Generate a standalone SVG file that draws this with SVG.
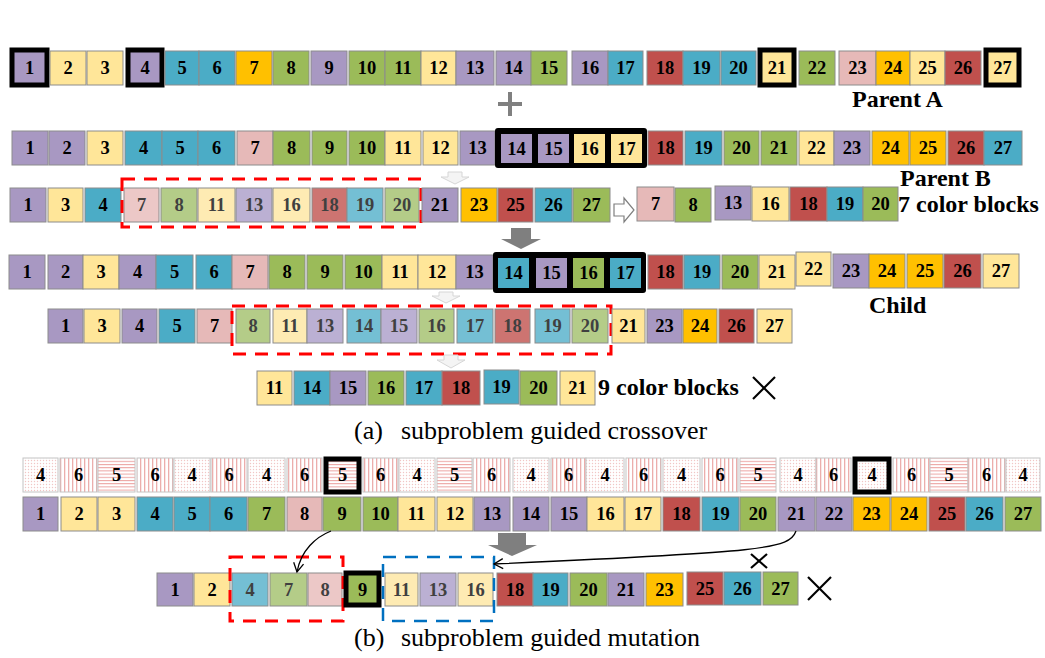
<svg xmlns="http://www.w3.org/2000/svg" width="1045" height="658" viewBox="0 0 1045 658">
<style>
.c{stroke:#8c8c8c;stroke-width:1}
.p{fill:#a898c2}.y{fill:#ffe699}.b{fill:#4bacc6}.o{fill:#ffc000}.g{fill:#9bbb59}.r{fill:#c0504d}.k{fill:#e6b9b8}
.fp{fill:#bbb0d3}.fy{fill:#feebb3}.fb{fill:#74bfd4}.fg{fill:#b4cc88}.fr{fill:#cd7471}.fk{fill:#ecc8c7}
.hb{stroke:#000;stroke-width:5}
.t{font-family:"Liberation Serif","Times New Roman",serif;font-weight:bold;font-size:18.5px;text-anchor:middle;fill:#000}
.ft{fill:#404040}
.lb{font-family:"Liberation Serif","Times New Roman",serif;font-weight:bold;font-size:24px;fill:#000}
.cap{font-family:"Liberation Serif","Times New Roman",serif;font-size:26px;fill:#000}
.rd{fill:none;stroke:#ff0000;stroke-width:3;stroke-dasharray:13 9}
.bd{fill:none;stroke:#0070c0;stroke-width:2.5;stroke-dasharray:13 9}
.fa{fill:#f4f4f4;stroke:#d6d6d6;stroke-width:1}
.da{fill:#7f7f7f}
.x{stroke:#000;stroke-width:2.2}
.pc{stroke:#c4c4c4;stroke-width:1}
.cv{fill:none;stroke:#000;stroke-width:1.3;marker-end:url(#oa)}
</style>
<defs>
<pattern id="dots" width="3" height="3" patternUnits="userSpaceOnUse"><rect width="3" height="3" fill="#fff"/><circle cx="1.5" cy="1.5" r="0.7" fill="#f1c6c5"/></pattern>
<pattern id="vst" width="4" height="4" patternUnits="userSpaceOnUse"><rect width="4" height="4" fill="#fff"/><rect width="1.3" height="4" fill="#ecaeac"/></pattern>
<pattern id="hst" width="4" height="3.2" patternUnits="userSpaceOnUse"><rect width="4" height="3.2" fill="#fff"/><rect width="4" height="1" fill="#eba2a0"/></pattern>
<marker id="oa" markerWidth="12" markerHeight="12" refX="10" refY="6" orient="auto" markerUnits="userSpaceOnUse"><path d="M1,1 L10,6 L1,11" fill="none" stroke="#000" stroke-width="1.3"/></marker>
</defs>
<rect width="1045" height="658" fill="#fff"/>

<!-- Parent A -->
<g id="parentA">
<g id="A1"><rect class="p hb" x="12" y="50" width="35" height="35"/><text class="t" x="29.5" y="74">1</text></g>
<g id="A2"><rect class="c y" x="50" y="51" width="36" height="34"/><text class="t" x="68" y="74">2</text></g>
<g id="A3"><rect class="c y" x="87" y="51" width="36" height="34"/><text class="t" x="105" y="74">3</text></g>
<g id="A4"><rect class="p hb" x="128" y="50" width="34" height="35"/><text class="t" x="145" y="74">4</text></g>
<g id="A5"><rect class="c b" x="165" y="51" width="34" height="34"/><text class="t" x="182" y="74">5</text></g>
<g id="A6"><rect class="c b" x="199" y="51" width="36" height="34"/><text class="t" x="217" y="74">6</text></g>
<g id="A7"><rect class="c o" x="236" y="51" width="36" height="34"/><text class="t" x="254" y="74">7</text></g>
<g id="A8"><rect class="c g" x="273" y="51" width="36" height="34"/><text class="t" x="291" y="74">8</text></g>
<g id="A9"><rect class="c p" x="311" y="51" width="36" height="34"/><text class="t" x="329" y="74">9</text></g>
<g id="A10"><rect class="c g" x="349" y="51" width="36" height="34"/><text class="t" x="367" y="74">10</text></g>
<g id="A11"><rect class="c g" x="385" y="51" width="36" height="34"/><text class="t" x="403" y="74">11</text></g>
<g id="A12"><rect class="c y" x="421" y="51" width="35" height="34"/><text class="t" x="438.5" y="74">12</text></g>
<g id="A13"><rect class="c p" x="456" y="51" width="38" height="34"/><text class="t" x="475" y="74">13</text></g>
<g id="A14"><rect class="c p" x="496" y="51" width="35" height="34"/><text class="t" x="513.5" y="74">14</text></g>
<g id="A15"><rect class="c g" x="531" y="51" width="36" height="34"/><text class="t" x="549" y="74">15</text></g>
<g id="A16"><rect class="c p" x="572" y="51" width="36" height="34"/><text class="t" x="590" y="74">16</text></g>
<g id="A17"><rect class="c b" x="608" y="51" width="35" height="34"/><text class="t" x="625.5" y="74">17</text></g>
<g id="A18"><rect class="c r" x="647" y="51" width="36" height="34"/><text class="t" x="665" y="74">18</text></g>
<g id="A19"><rect class="c b" x="683" y="51" width="37" height="34"/><text class="t" x="701.5" y="74">19</text></g>
<g id="A20"><rect class="c b" x="721" y="51" width="35" height="34"/><text class="t" x="738.5" y="74">20</text></g>
<g id="A21"><rect class="y hb" x="760" y="50" width="34" height="35"/><text class="t" x="777" y="74">21</text></g>
<g id="A22"><rect class="c g" x="799" y="51" width="36" height="34"/><text class="t" x="817" y="74">22</text></g>
<g id="A23"><rect class="c k" x="839" y="51" width="37" height="34"/><text class="t" x="857.5" y="74">23</text></g>
<g id="A24"><rect class="c o" x="876" y="51" width="34" height="34"/><text class="t" x="893" y="74">24</text></g>
<g id="A25"><rect class="c y" x="910" y="51" width="35" height="34"/><text class="t" x="927.5" y="74">25</text></g>
<g id="A26"><rect class="c r" x="945" y="51" width="36" height="34"/><text class="t" x="963" y="74">26</text></g>
<g id="A27"><rect class="y hb" x="986" y="50" width="33" height="35"/><text class="t" x="1002.5" y="74">27</text></g>
<text id="labelA" class="lb" x="852" y="107">Parent A</text>
</g>
<g id="plus"><line x1="498" y1="104" x2="522" y2="104" stroke="#808080" stroke-width="4"/><line x1="510" y1="92" x2="510" y2="116" stroke="#808080" stroke-width="4"/></g>

<!-- Parent B -->
<g id="parentB">
<g id="B1"><rect class="c p" x="12" y="131" width="36" height="34"/><text class="t" x="30" y="154">1</text></g>
<g id="B2"><rect class="c p" x="49" y="131" width="36" height="34"/><text class="t" x="67" y="154">2</text></g>
<g id="B3"><rect class="c y" x="87" y="131" width="36" height="34"/><text class="t" x="105" y="154">3</text></g>
<g id="B4"><rect class="c b" x="125" y="131" width="37" height="34"/><text class="t" x="143.5" y="154">4</text></g>
<g id="B5"><rect class="c b" x="162" y="131" width="36" height="34"/><text class="t" x="180" y="154">5</text></g>
<g id="B6"><rect class="c b" x="198" y="131" width="37" height="34"/><text class="t" x="216.5" y="154">6</text></g>
<g id="B7"><rect class="c k" x="237" y="131" width="36" height="34"/><text class="t" x="255" y="154">7</text></g>
<g id="B8"><rect class="c g" x="273" y="131" width="37" height="34"/><text class="t" x="291.5" y="154">8</text></g>
<g id="B9"><rect class="c g" x="312" y="131" width="35" height="34"/><text class="t" x="329.5" y="154">9</text></g>
<g id="B10"><rect class="c g" x="349" y="131" width="36" height="34"/><text class="t" x="367" y="154">10</text></g>
<g id="B11"><rect class="c y" x="385" y="131" width="36" height="34"/><text class="t" x="403" y="154">11</text></g>
<g id="B12"><rect class="c y" x="423" y="131" width="35" height="34"/><text class="t" x="440.5" y="154">12</text></g>
<g id="B13"><rect class="c p" x="460" y="131" width="35" height="34"/><text class="t" x="477.5" y="154">13</text></g>
<g id="Bsel"><rect x="495" y="128" width="152" height="40" rx="3" fill="#000"/>
<g id="B14"><rect class="p" x="501" y="134" width="31" height="29"/><text class="t" x="516.5" y="155">14</text></g>
<g id="B15"><rect class="p" x="538" y="134" width="31" height="29"/><text class="t" x="553.5" y="155">15</text></g>
<g id="B16"><rect class="y" x="574" y="134" width="31" height="29"/><text class="t" x="589.5" y="155">16</text></g>
<g id="B17"><rect class="y" x="611" y="134" width="31" height="29"/><text class="t" x="626.5" y="155">17</text></g>
</g>
<g id="B18"><rect class="c r" x="648" y="131" width="35" height="34"/><text class="t" x="665.5" y="154">18</text></g>
<g id="B19"><rect class="c b" x="685" y="131" width="37" height="34"/><text class="t" x="703.5" y="154">19</text></g>
<g id="B20"><rect class="c g" x="724" y="131" width="35" height="34"/><text class="t" x="741.5" y="154">20</text></g>
<g id="B21"><rect class="c g" x="761" y="131" width="36" height="34"/><text class="t" x="779" y="154">21</text></g>
<g id="B22"><rect class="c y" x="799" y="131" width="35" height="34"/><text class="t" x="816.5" y="154">22</text></g>
<g id="B23"><rect class="c p" x="834" y="131" width="36" height="34"/><text class="t" x="852" y="154">23</text></g>
<g id="B24"><rect class="c o" x="872" y="131" width="37" height="34"/><text class="t" x="890.5" y="154">24</text></g>
<g id="B25"><rect class="c o" x="910" y="131" width="36" height="34"/><text class="t" x="928" y="154">25</text></g>
<g id="B26"><rect class="c r" x="948" y="131" width="36" height="34"/><text class="t" x="966" y="154">26</text></g>
<g id="B27"><rect class="c b" x="984" y="131" width="38" height="34"/><text class="t" x="1003" y="154">27</text></g>
<text id="labelB" class="lb" x="900" y="186">Parent B</text>
</g>

<!-- Row 3: selected -->
<g id="rowSel">
<g id="C1"><rect class="c p" x="10" y="188" width="36" height="34"/><text class="t" x="28" y="211">1</text></g>
<g id="C3"><rect class="c y" x="48" y="188" width="35" height="34"/><text class="t" x="65.5" y="211">3</text></g>
<g id="C4"><rect class="c b" x="85" y="188" width="36" height="34"/><text class="t" x="103" y="211">4</text></g>
<g id="C7"><rect class="c fk" x="124" y="188" width="35" height="34"/><text class="t ft" x="141.5" y="211">7</text></g>
<g id="C8"><rect class="c fg" x="161" y="188" width="36" height="34"/><text class="t ft" x="179" y="211">8</text></g>
<g id="C11"><rect class="c fy" x="198" y="188" width="37" height="34"/><text class="t ft" x="216.5" y="211">11</text></g>
<g id="C13"><rect class="c fp" x="236" y="188" width="36" height="34"/><text class="t ft" x="254" y="211">13</text></g>
<g id="C16"><rect class="c fy" x="273" y="188" width="37" height="34"/><text class="t ft" x="291.5" y="211">16</text></g>
<g id="C18"><rect class="c fr" x="312" y="188" width="35" height="34"/><text class="t ft" x="329.5" y="211">18</text></g>
<g id="C19"><rect class="c fb" x="347" y="188" width="36" height="34"/><text class="t ft" x="365" y="211">19</text></g>
<g id="C20"><rect class="c fg" x="385" y="188" width="34" height="34"/><text class="t ft" x="402" y="211">20</text></g>
<rect id="selBox1" class="rd" x="122" y="179" width="299" height="48"/>
<g id="C21"><rect class="c p" x="422" y="188" width="36" height="34"/><text class="t" x="440" y="211">21</text></g>
<g id="C23"><rect class="c o" x="461" y="188" width="36" height="34"/><text class="t" x="479" y="211">23</text></g>
<g id="C25"><rect class="c r" x="498" y="188" width="35" height="34"/><text class="t" x="515.5" y="211">25</text></g>
<g id="C26"><rect class="c b" x="535" y="188" width="37" height="34"/><text class="t" x="553.5" y="211">26</text></g>
<g id="C27"><rect class="c g" x="573" y="188" width="37" height="34"/><text class="t" x="591.5" y="211">27</text></g>
</g>
<g id="rowBlocks7">
<g id="D7"><rect class="c k" x="637" y="187" width="37" height="34"/><text class="t" x="655.5" y="210">7</text></g>
<g id="D8"><rect class="c g" x="675" y="188" width="36" height="34"/><text class="t" x="693" y="211">8</text></g>
<g id="D13"><rect class="c p" x="715" y="186" width="36" height="34"/><text class="t" x="733" y="209">13</text></g>
<g id="D16"><rect class="c y" x="752" y="187" width="37" height="34"/><text class="t" x="770.5" y="210">16</text></g>
<g id="D18"><rect class="c r" x="790" y="187" width="37" height="34"/><text class="t" x="808.5" y="210">18</text></g>
<g id="D19"><rect class="c b" x="827" y="187" width="36" height="34"/><text class="t" x="845" y="210">19</text></g>
<g id="D20"><rect class="c g" x="863" y="187" width="35" height="34"/><text class="t" x="880.5" y="210">20</text></g>
<text id="label7" class="lb" x="898" y="212">7 color blocks</text>
</g>

<!-- Child -->
<g id="child">
<g id="E1"><rect class="c p" x="9" y="255" width="36" height="34"/><text class="t" x="27" y="278">1</text></g>
<g id="E2"><rect class="c p" x="48" y="255" width="35" height="34"/><text class="t" x="65.5" y="278">2</text></g>
<g id="E3"><rect class="c y" x="83" y="255" width="36" height="34"/><text class="t" x="101" y="278">3</text></g>
<g id="E4"><rect class="c p" x="119" y="255" width="37" height="34"/><text class="t" x="137.5" y="278">4</text></g>
<g id="E5"><rect class="c b" x="156" y="255" width="37" height="34"/><text class="t" x="174.5" y="278">5</text></g>
<g id="E6"><rect class="c b" x="196" y="255" width="36" height="34"/><text class="t" x="214" y="278">6</text></g>
<g id="E7"><rect class="c k" x="232" y="255" width="36" height="34"/><text class="t" x="250" y="278">7</text></g>
<g id="E8"><rect class="c g" x="269" y="255" width="36" height="34"/><text class="t" x="287" y="278">8</text></g>
<g id="E9"><rect class="c g" x="307" y="255" width="36" height="34"/><text class="t" x="325" y="278">9</text></g>
<g id="E10"><rect class="c g" x="345" y="255" width="37" height="34"/><text class="t" x="363.5" y="278">10</text></g>
<g id="E11"><rect class="c y" x="382" y="255" width="36" height="34"/><text class="t" x="400" y="278">11</text></g>
<g id="E12"><rect class="c y" x="418" y="255" width="38" height="34"/><text class="t" x="437" y="278">12</text></g>
<g id="E13"><rect class="c p" x="456" y="255" width="37" height="34"/><text class="t" x="474.5" y="278">13</text></g>
<g id="Esel"><rect x="493" y="252" width="153" height="41" rx="3" fill="#000"/>
<g id="E14"><rect class="b" x="498" y="258" width="31" height="30"/><text class="t" x="513.5" y="279">14</text></g>
<g id="E15"><rect class="p" x="536" y="258" width="31" height="30"/><text class="t" x="551.5" y="279">15</text></g>
<g id="E16"><rect class="g" x="573" y="258" width="31" height="30"/><text class="t" x="588.5" y="279">16</text></g>
<g id="E17"><rect class="b" x="610" y="258" width="31" height="30"/><text class="t" x="625.5" y="279">17</text></g>
</g>
<g id="E18"><rect class="c r" x="648" y="255" width="35" height="34"/><text class="t" x="665.5" y="278">18</text></g>
<g id="E19"><rect class="c b" x="684" y="255" width="36" height="34"/><text class="t" x="702" y="278">19</text></g>
<g id="E20"><rect class="c g" x="722" y="255" width="36" height="34"/><text class="t" x="740" y="278">20</text></g>
<g id="E21"><rect class="c y" x="759" y="255" width="36" height="34"/><text class="t" x="777" y="278">21</text></g>
<g id="E22"><rect class="c y" x="796" y="252" width="35" height="34"/><text class="t" x="813.5" y="275">22</text></g>
<g id="E23"><rect class="c p" x="833" y="254" width="36" height="34"/><text class="t" x="851" y="277">23</text></g>
<g id="E24"><rect class="c o" x="869" y="254" width="36" height="34"/><text class="t" x="887" y="277">24</text></g>
<g id="E25"><rect class="c o" x="907" y="254" width="36" height="34"/><text class="t" x="925" y="277">25</text></g>
<g id="E26"><rect class="c r" x="944" y="254" width="37" height="34"/><text class="t" x="962.5" y="277">26</text></g>
<g id="E27"><rect class="c y" x="983" y="254" width="36" height="34"/><text class="t" x="1001" y="277">27</text></g>
<text id="labelChild" class="lb" x="869" y="313">Child</text>
</g>

<!-- Row 5 -->
<g id="rowSel2">
<g id="F1"><rect class="c p" x="48" y="309" width="35" height="34"/><text class="t" x="65.5" y="332">1</text></g>
<g id="F3"><rect class="c y" x="84" y="309" width="36" height="34"/><text class="t" x="102" y="332">3</text></g>
<g id="F4"><rect class="c p" x="122" y="309" width="35" height="34"/><text class="t" x="139.5" y="332">4</text></g>
<g id="F5"><rect class="c b" x="159" y="309" width="36" height="34"/><text class="t" x="177" y="332">5</text></g>
<g id="F7"><rect class="c k" x="197" y="309" width="35" height="34"/><text class="t" x="214.5" y="332">7</text></g>
<g id="F8"><rect class="c fg" x="236" y="309" width="34" height="34"/><text class="t ft" x="253" y="332">8</text></g>
<g id="F11"><rect class="c fy" x="273" y="309" width="34" height="34"/><text class="t ft" x="290" y="332">11</text></g>
<g id="F13"><rect class="c fp" x="307" y="309" width="36" height="34"/><text class="t ft" x="325" y="332">13</text></g>
<g id="F14"><rect class="c fb" x="347" y="309" width="34" height="34"/><text class="t ft" x="364" y="332">14</text></g>
<g id="F15"><rect class="c fp" x="381" y="309" width="36" height="34"/><text class="t ft" x="399" y="332">15</text></g>
<g id="F16"><rect class="c fg" x="419" y="309" width="35" height="34"/><text class="t ft" x="436.5" y="332">16</text></g>
<g id="F17"><rect class="c fb" x="457" y="309" width="36" height="34"/><text class="t ft" x="475" y="332">17</text></g>
<g id="F18"><rect class="c fr" x="495" y="309" width="35" height="34"/><text class="t ft" x="512.5" y="332">18</text></g>
<g id="F19"><rect class="c fb" x="535" y="309" width="35" height="34"/><text class="t ft" x="552.5" y="332">19</text></g>
<g id="F20"><rect class="c fg" x="572" y="309" width="36" height="34"/><text class="t ft" x="590" y="332">20</text></g>
<rect id="selBox2" class="rd" x="232" y="306" width="379" height="48"/>
<g id="F21"><rect class="c y" x="612" y="309" width="33" height="34"/><text class="t" x="628.5" y="332">21</text></g>
<g id="F23"><rect class="c p" x="647" y="309" width="35" height="34"/><text class="t" x="664.5" y="332">23</text></g>
<g id="F24"><rect class="c o" x="683" y="309" width="34" height="34"/><text class="t" x="700" y="332">24</text></g>
<g id="F26"><rect class="c r" x="719" y="309" width="35" height="34"/><text class="t" x="736.5" y="332">26</text></g>
<g id="F27"><rect class="c y" x="757" y="309" width="35" height="34"/><text class="t" x="774.5" y="332">27</text></g>
</g>

<!-- Row 6 -->
<g id="rowBlocks9">
<g id="G11"><rect class="c y" x="257" y="371" width="35" height="34"/><text class="t" x="274.5" y="394">11</text></g>
<g id="G14"><rect class="c b" x="294" y="371" width="36" height="34"/><text class="t" x="312" y="394">14</text></g>
<g id="G15"><rect class="c p" x="330" y="371" width="36" height="34"/><text class="t" x="348" y="394">15</text></g>
<g id="G16"><rect class="c g" x="368" y="371" width="36" height="34"/><text class="t" x="386" y="394">16</text></g>
<g id="G17"><rect class="c b" x="406" y="371" width="36" height="34"/><text class="t" x="424" y="394">17</text></g>
<g id="G18"><rect class="c r" x="442" y="371" width="38" height="34"/><text class="t" x="461" y="394">18</text></g>
<g id="G19"><rect class="c b" x="484" y="370" width="35" height="34"/><text class="t" x="501.5" y="393">19</text></g>
<g id="G20"><rect class="c g" x="520" y="371" width="37" height="34"/><text class="t" x="538.5" y="394">20</text></g>
<g id="G21"><rect class="c y" x="560" y="371" width="35" height="34"/><text class="t" x="577.5" y="394">21</text></g>
<text id="label9" class="lb" x="598" y="395">9 color blocks</text>
<g id="X1"><line class="x" x1="753" y1="377" x2="775" y2="399"/><line class="x" x1="775" y1="377" x2="753" y2="399"/></g>
</g>
<g id="capA"><text class="cap" x="354" y="439">(a)</text><text class="cap" x="401" y="439">subproblem guided crossover</text></g>

<!-- (b) pattern row -->
<g id="patRow">
<g id="P1"><rect class="pc" fill="url(#dots)" x="23" y="458" width="35" height="34"/><text class="t" x="40.5" y="481">4</text></g>
<g id="P2"><rect class="pc" fill="url(#vst)" x="60" y="458" width="37" height="34"/><text class="t" x="78.5" y="481">6</text></g>
<g id="P3"><rect class="pc" fill="url(#hst)" x="98" y="458" width="37" height="34"/><text class="t" x="116.5" y="481">5</text></g>
<g id="P4"><rect class="pc" fill="url(#vst)" x="137" y="458" width="36" height="34"/><text class="t" x="155" y="481">6</text></g>
<g id="P5"><rect class="pc" fill="url(#dots)" x="174" y="458" width="36" height="34"/><text class="t" x="192" y="481">4</text></g>
<g id="P6"><rect class="pc" fill="url(#vst)" x="211" y="458" width="36" height="34"/><text class="t" x="229" y="481">6</text></g>
<g id="P7"><rect class="pc" fill="url(#dots)" x="248" y="458" width="37" height="34"/><text class="t" x="266.5" y="481">4</text></g>
<g id="P8"><rect class="pc" fill="url(#vst)" x="287" y="458" width="35" height="34"/><text class="t" x="304.5" y="481">6</text></g>
<g id="P9"><rect class="hb" fill="url(#hst)" x="326" y="459" width="33" height="33"/><text class="t" x="342.5" y="481">5</text></g>
<g id="P10"><rect class="pc" fill="url(#vst)" x="363" y="458" width="35" height="34"/><text class="t" x="380.5" y="481">6</text></g>
<g id="P11"><rect class="pc" fill="url(#dots)" x="399" y="458" width="36" height="34"/><text class="t" x="417" y="481">4</text></g>
<g id="P12"><rect class="pc" fill="url(#hst)" x="437" y="458" width="35" height="34"/><text class="t" x="454.5" y="481">5</text></g>
<g id="P13"><rect class="pc" fill="url(#vst)" x="473" y="458" width="37" height="34"/><text class="t" x="491.5" y="481">6</text></g>
<g id="P14"><rect class="pc" fill="url(#dots)" x="513" y="458" width="36" height="34"/><text class="t" x="531" y="481">4</text></g>
<g id="P15"><rect class="pc" fill="url(#vst)" x="551" y="458" width="35" height="34"/><text class="t" x="568.5" y="481">6</text></g>
<g id="P16"><rect class="pc" fill="url(#dots)" x="586" y="458" width="38" height="34"/><text class="t" x="605" y="481">4</text></g>
<g id="P17"><rect class="pc" fill="url(#vst)" x="626" y="458" width="35" height="34"/><text class="t" x="643.5" y="481">6</text></g>
<g id="P18"><rect class="pc" fill="url(#dots)" x="663" y="458" width="37" height="34"/><text class="t" x="681.5" y="481">4</text></g>
<g id="P19"><rect class="pc" fill="url(#vst)" x="702" y="458" width="36" height="34"/><text class="t" x="720" y="481">6</text></g>
<g id="P20"><rect class="pc" fill="url(#hst)" x="740" y="458" width="36" height="34"/><text class="t" x="758" y="481">5</text></g>
<g id="P21"><rect class="pc" fill="url(#dots)" x="780" y="458" width="36" height="34"/><text class="t" x="798" y="481">4</text></g>
<g id="P22"><rect class="pc" fill="url(#vst)" x="816" y="458" width="35" height="34"/><text class="t" x="833.5" y="481">6</text></g>
<g id="P23"><rect class="hb" fill="url(#dots)" x="855" y="459" width="34" height="33"/><text class="t" x="872" y="481">4</text></g>
<g id="P24"><rect class="pc" fill="url(#vst)" x="893" y="458" width="37" height="34"/><text class="t" x="911.5" y="481">6</text></g>
<g id="P25"><rect class="pc" fill="url(#hst)" x="930" y="458" width="38" height="34"/><text class="t" x="949" y="481">5</text></g>
<g id="P26"><rect class="pc" fill="url(#vst)" x="968" y="458" width="37" height="34"/><text class="t" x="986.5" y="481">6</text></g>
<g id="P27"><rect class="pc" fill="url(#dots)" x="1006" y="458" width="34" height="34"/><text class="t" x="1023" y="481">4</text></g>
</g>

<!-- (b) solution row -->
<g id="solRow">
<g id="H1"><rect class="c p" x="23" y="497" width="35" height="34"/><text class="t" x="40.5" y="520">1</text></g>
<g id="H2"><rect class="c y" x="61" y="497" width="36" height="34"/><text class="t" x="79" y="520">2</text></g>
<g id="H3"><rect class="c y" x="98" y="497" width="37" height="34"/><text class="t" x="116.5" y="520">3</text></g>
<g id="H4"><rect class="c b" x="137" y="497" width="36" height="34"/><text class="t" x="155" y="520">4</text></g>
<g id="H5"><rect class="c b" x="174" y="497" width="36" height="34"/><text class="t" x="192" y="520">5</text></g>
<g id="H6"><rect class="c b" x="210" y="497" width="37" height="34"/><text class="t" x="228.5" y="520">6</text></g>
<g id="H7"><rect class="c g" x="248" y="497" width="37" height="34"/><text class="t" x="266.5" y="520">7</text></g>
<g id="H8"><rect class="c k" x="287" y="497" width="35" height="34"/><text class="t" x="304.5" y="520">8</text></g>
<g id="H9"><rect class="c g" x="323" y="497" width="38" height="34"/><text class="t" x="342" y="520">9</text></g>
<g id="H10"><rect class="c g" x="363" y="497" width="35" height="34"/><text class="t" x="380.5" y="520">10</text></g>
<g id="H11"><rect class="c y" x="398" y="497" width="37" height="34"/><text class="t" x="416.5" y="520">11</text></g>
<g id="H12"><rect class="c y" x="437" y="497" width="36" height="34"/><text class="t" x="455" y="520">12</text></g>
<g id="H13"><rect class="c p" x="474" y="497" width="36" height="34"/><text class="t" x="492" y="520">13</text></g>
<g id="H14"><rect class="c p" x="513" y="497" width="36" height="34"/><text class="t" x="531" y="520">14</text></g>
<g id="H15"><rect class="c p" x="551" y="497" width="36" height="34"/><text class="t" x="569" y="520">15</text></g>
<g id="H16"><rect class="c y" x="587" y="497" width="37" height="34"/><text class="t" x="605.5" y="520">16</text></g>
<g id="H17"><rect class="c y" x="625" y="497" width="36" height="34"/><text class="t" x="643" y="520">17</text></g>
<g id="H18"><rect class="c r" x="663" y="497" width="37" height="34"/><text class="t" x="681.5" y="520">18</text></g>
<g id="H19"><rect class="c b" x="702" y="497" width="37" height="34"/><text class="t" x="720.5" y="520">19</text></g>
<g id="H20"><rect class="c g" x="740" y="497" width="36" height="34"/><text class="t" x="758" y="520">20</text></g>
<g id="H21"><rect class="c p" x="778" y="497" width="37" height="34"/><text class="t" x="796.5" y="520">21</text></g>
<g id="H22"><rect class="c p" x="816" y="497" width="36" height="34"/><text class="t" x="834" y="520">22</text></g>
<g id="H23"><rect class="c o" x="853" y="497" width="37" height="34"/><text class="t" x="871.5" y="520">23</text></g>
<g id="H24"><rect class="c o" x="891" y="497" width="36" height="34"/><text class="t" x="909" y="520">24</text></g>
<g id="H25"><rect class="c r" x="929" y="497" width="36" height="34"/><text class="t" x="947" y="520">25</text></g>
<g id="H26"><rect class="c b" x="966" y="497" width="37" height="34"/><text class="t" x="984.5" y="520">26</text></g>
<g id="H27"><rect class="c g" x="1005" y="497" width="36" height="34"/><text class="t" x="1023" y="520">27</text></g>
</g>

<!-- (b) mutated row -->
<g id="mutRow">
<g id="M1"><rect class="c p" x="157" y="573" width="36" height="33"/><text class="t" x="175" y="596">1</text></g>
<g id="M2"><rect class="c y" x="194" y="573" width="36" height="33"/><text class="t" x="212" y="596">2</text></g>
<g id="M4"><rect class="c fb" x="232" y="573" width="36" height="33"/><text class="t ft" x="250" y="596">4</text></g>
<g id="M7"><rect class="c fg" x="270" y="573" width="37" height="33"/><text class="t ft" x="288.5" y="596">7</text></g>
<g id="M8"><rect class="c fk" x="308" y="573" width="34" height="33"/><text class="t ft" x="325" y="596">8</text></g>
<rect id="mutBoxR" class="rd" x="230" y="557" width="113" height="64"/>
<g id="M9"><rect class="g hb" x="346" y="573" width="33" height="32"/><text class="t" x="362.5" y="596">9</text></g>
<g id="M11"><rect class="c fy" x="385" y="573" width="33" height="33"/><text class="t ft" x="401.5" y="596">11</text></g>
<g id="M13"><rect class="c fp" x="420" y="573" width="36" height="33"/><text class="t ft" x="438" y="596">13</text></g>
<g id="M16"><rect class="c fy" x="458" y="573" width="35" height="33"/><text class="t ft" x="475.5" y="596">16</text></g>
<rect id="mutBoxB" class="bd" x="383" y="557" width="111" height="64"/>
<g id="M18"><rect class="c r" x="497" y="573" width="36" height="33"/><text class="t" x="515" y="596">18</text></g>
<g id="M19"><rect class="c b" x="533" y="573" width="35" height="33"/><text class="t" x="550.5" y="596">19</text></g>
<g id="M20"><rect class="c g" x="570" y="573" width="37" height="33"/><text class="t" x="588.5" y="596">20</text></g>
<g id="M21"><rect class="c p" x="608" y="573" width="36" height="33"/><text class="t" x="626" y="596">21</text></g>
<g id="M23"><rect class="c o" x="646" y="573" width="37" height="33"/><text class="t" x="664.5" y="596">23</text></g>
<g id="M25"><rect class="c r" x="687" y="572" width="36" height="33"/><text class="t" x="705" y="595">25</text></g>
<g id="M26"><rect class="c b" x="724" y="572" width="37" height="33"/><text class="t" x="742.5" y="595">26</text></g>
<g id="M27"><rect class="c g" x="763" y="572" width="35" height="33"/><text class="t" x="780.5" y="595">27</text></g>
<g id="X2"><line class="x" x1="751" y1="554" x2="767" y2="568"/><line class="x" x1="767" y1="554" x2="751" y2="568"/></g>
<g id="X3"><line class="x" x1="808" y1="577" x2="831" y2="600"/><line class="x" x1="831" y1="577" x2="808" y2="600"/></g>
</g>
<g id="capB"><text class="cap" x="354" y="646">(b)</text><text class="cap" x="401" y="646">subproblem guided mutation</text></g>

<!-- connectors -->
<g id="connectors">
<polygon class="fa" points="448,172 462,172 462,177 469,177 455,184 441,177 448,177"/>
<polygon points="614,204 624,204 624,198 634,210 624,222 624,216 614,216" fill="#fff" stroke="#7f7f7f" stroke-width="1.2"/>
<polygon class="da" points="511,228 531,228 531,239 541,239 521,249 501,239 511,239"/>
<polygon class="fa" points="439,292 453,292 453,296 460,296 446,303 432,296 439,296"/>
<polygon class="fa" points="444,355 458,355 458,360 465,360 451,368 437,360 444,360"/>
<polygon class="da" points="498,533 526,533 526,545 537,545 512,556 488,545 498,545"/>
<path class="cv" d="M331,531 C316,537 301,550 297,572"/>
<path class="cv" d="M796,531 C790,549 765,552 494,564"/>
</g>
</svg>
